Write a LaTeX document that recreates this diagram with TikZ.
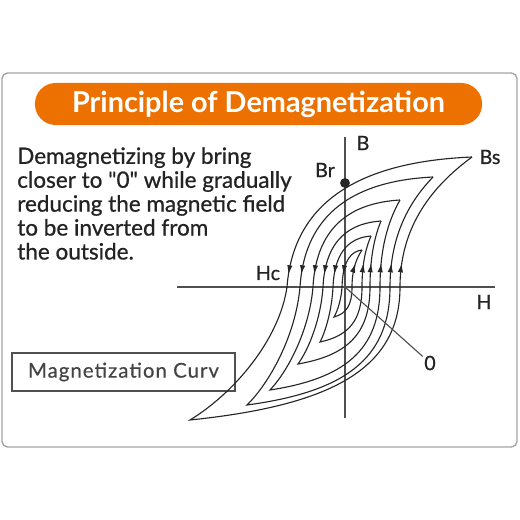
\documentclass[tikz,border=0pt]{standalone}
\usepackage{fontspec}
\setmainfont{Lato}
\newfontfamily\bodyfont[FakeBold=0.7]{Lato}
\newfontfamily\boxfont[LetterSpace=5,FakeBold=0.4]{Lato}
\usetikzlibrary{arrows.meta,decorations.markings,positioning}
\definecolor{titleorange}{RGB}{236,113,0}
\definecolor{axisgray}{RGB}{80,80,80}
\definecolor{textgray}{RGB}{35,35,35}
\definecolor{framegray}{RGB}{165,165,165}

\begin{document}
\begin{tikzpicture}[x=0.025cm,y=-0.025cm,
    curve/.style={line width=0.8pt,draw=black!85},
    downmark/.style={postaction={decorate},decoration={markings,
        mark=at position -9pt with {\arrow{Latex[length=6.5pt,width=3.8pt]}}}},
    upmark/.style={postaction={decorate},decoration={markings,
        mark=at position 17pt with {\arrow{Latex[length=6.5pt,width=3.8pt]}}}},
    axis/.style={draw=axisgray,line width=1.8pt},
    lbl/.style={text=textgray,font=\bodyfont\fontsize{14}{14}\selectfont,inner sep=1pt}]
    \fill[white] (0,0) rectangle (520,520);
    \useasboundingbox (0,0) rectangle (520,520);
    % frame and title
    \draw[framegray,line width=1pt,rounded corners=4pt] (2,73) rectangle (517,447);
    \node[fill=titleorange,rounded corners=14.8pt,minimum width=11.175cm,minimum height=1.05cm,
          text=white,font=\bfseries\fontsize{20.5}{20.5}\selectfont] (title) at (258.5,104) {Principle of Demagnetization};
    \node[anchor=north west,align=left,inner sep=0pt,text=textgray,
          font=\bodyfont\fontsize{16}{17}\selectfont] (note) at (17,147)
        {Demagnetizing by bring\\closer to \symbol{34}0\symbol{34} while gradually\\reducing the magnetic field\\to be inverted from\\the outside.};
    \node[draw=axisgray,line width=0.8pt,minimum width=5.575cm,minimum height=0.95cm,
          text=textgray!85,font=\boxfont\fontsize{14.5}{14.5}\selectfont] (curvbox) at (123.5,372) {Magnetization Curv};
    % axes
    \coordinate (O) at (345,287);
    \coordinate (Htail) at (177,287);
    \coordinate (Hhead) at (495,287);
    \coordinate (Btop) at (345,137);
    \coordinate (Bbottom) at (345,418);
    \draw[axis] (Htail) -- (Hhead);
    \draw[axis,line width=1.3pt] (Btop) -- (Bbottom);
    % nested loops
    \begin{scope}[shift={(O)}]
    \foreach \ux/\uy/\lx/\rx/\px/\py in {127/-130/-58/55/-155/133, 88/-110/-45/45/-98/118,
        55/-87/-32/35/-75/103, 36/-66/-22/25/-47/77, 26/-51/-12/17/-25/55, 17/-37/-3/7/-11/30}{
      \draw[curve,downmark] (\ux,\uy) .. controls ({(\ux)-0.5*((\ux)-(\lx))},{0.97*(\uy)})
          and ({(\lx)+0.04*((\ux)-(\lx))},{0.75*(\uy)}) .. (\lx,0);
      \draw[curve] (\lx,0) .. controls ({(\lx)-0.08*((\lx)-(\px))},{0.4*(\py)})
          and ({(\px)+0.45*((\lx)-(\px))},{0.8*(\py)}) .. (\px,\py)
          .. controls ({(\px)+0.67*((\rx)-(\px))},{0.89*(\py)}) and (\rx,{0.62*(\py)}) .. (\rx,0);
      \draw[curve,upmark] (\rx,0) .. controls (\rx,{0.52*(\uy)})
          and ({(\ux)-0.44*((\ux)-(\rx))},{0.82*(\uy)}) .. (\ux,\uy);
    }
    \end{scope}
    % labels
    \node[circle,fill=black!85,inner sep=0pt,minimum size=7pt] (Br) at (345,183) {};
    \node[lbl] (Blabel) at (363,143) {B};
    \node[lbl] (Brlabel) at (325,170) {Br};
    \node[lbl] (Bslabel) at (490,157) {Bs};
    \node[lbl] (Hlabel) at (484,302) {H};
    \node[lbl] (Hclabel) at (268,273) {Hc};
    \node[lbl] (zero) at (430,363) {0};
    \draw[draw=axisgray,line width=0.8pt] (O) -- (zero);
\end{tikzpicture}
\end{document}
